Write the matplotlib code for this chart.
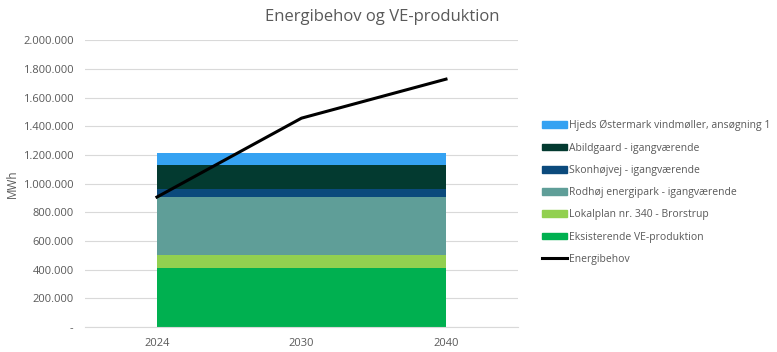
import matplotlib.pyplot as plt
from matplotlib.patches import Patch
from matplotlib.lines import Line2D
from matplotlib.ticker import FuncFormatter

plt.rcParams['font.family'] = ['Open Sans', 'DejaVu Sans']

years = ["2024", "2030", "2040"]
series_names = [
    "Eksisterende VE-produktion",
    "Lokalplan nr. 340 - Brorstrup",
    "Rodhøj energipark - igangværende",
    "Skonhøjvej - igangværende",
    "Abildgaard - igangværende",
    "Hjeds Østermark vindmøller, ansøgning 1",
]
eksisterende = [411000, 411000, 411000]
lokalplan = [91000, 91000, 91000]
rodhoj = [404000, 404000, 404000]
skonhojvej = [56000, 56000, 56000]
abildgaard = [167000, 167000, 167000]
hjeds = [81000, 81000, 81000]
energibehov = [906000, 1456000, 1728000]

colors = ["#00B050", "#92D050", "#5F9E98", "#0B4A7C", "#033A30", "#35A2F2"]
gray = "#595959"

fig = plt.figure(figsize=(7.77, 3.52), dpi=100)
ax = fig.add_axes([0.109, 0.071, 0.558, 0.815])

x = list(range(len(years)))
ax.stackplot(x, eksisterende, lokalplan, rodhoj, skonhojvej, abildgaard, hjeds,
             colors=colors, linewidth=0, zorder=2)
ax.plot(x, energibehov, color="black", linewidth=2.2, zorder=3)

ax.set_xlim(-0.5, 2.5)
ax.set_ylim(0, 2000000)
ax.set_yticks(range(0, 2000001, 200000))
ax.yaxis.set_major_formatter(FuncFormatter(
    lambda v, p: "-" if v == 0 else f"{int(v):,}".replace(",", ".")))
ax.set_xticks(x)
ax.set_xticklabels(years)
ax.grid(axis="y", color="#D9D9D9", linewidth=0.8, zorder=0)
ax.set_axisbelow(True)
for s in ax.spines.values():
    s.set_visible(False)
ax.spines["bottom"].set_visible(True)
ax.spines["bottom"].set_color("#D9D9D9")
ax.tick_params(length=0, labelsize=8, colors=gray, pad=8)
ax.set_ylabel("MWh", fontsize=8.5, color=gray)
ax.yaxis.set_label_coords(-0.152, 0.5)

fig.suptitle("Energibehov og VE-produktion", x=0.492, y=0.975,
             fontsize=12, color=gray)

handles = [Patch(color=c) for c in colors[::-1]] + [Line2D([], [], color="black", lw=2.2)]
labels = series_names[::-1] + ["Energibehov"]
fig.legend(handles, labels, loc="upper left", bbox_to_anchor=(0.686, 0.685),
           frameon=False, fontsize=7.5, labelcolor=gray, handlelength=2.4,
           handleheight=0.6, handletextpad=0.15, labelspacing=1.08)

fig.savefig("out.png", dpi=100)
